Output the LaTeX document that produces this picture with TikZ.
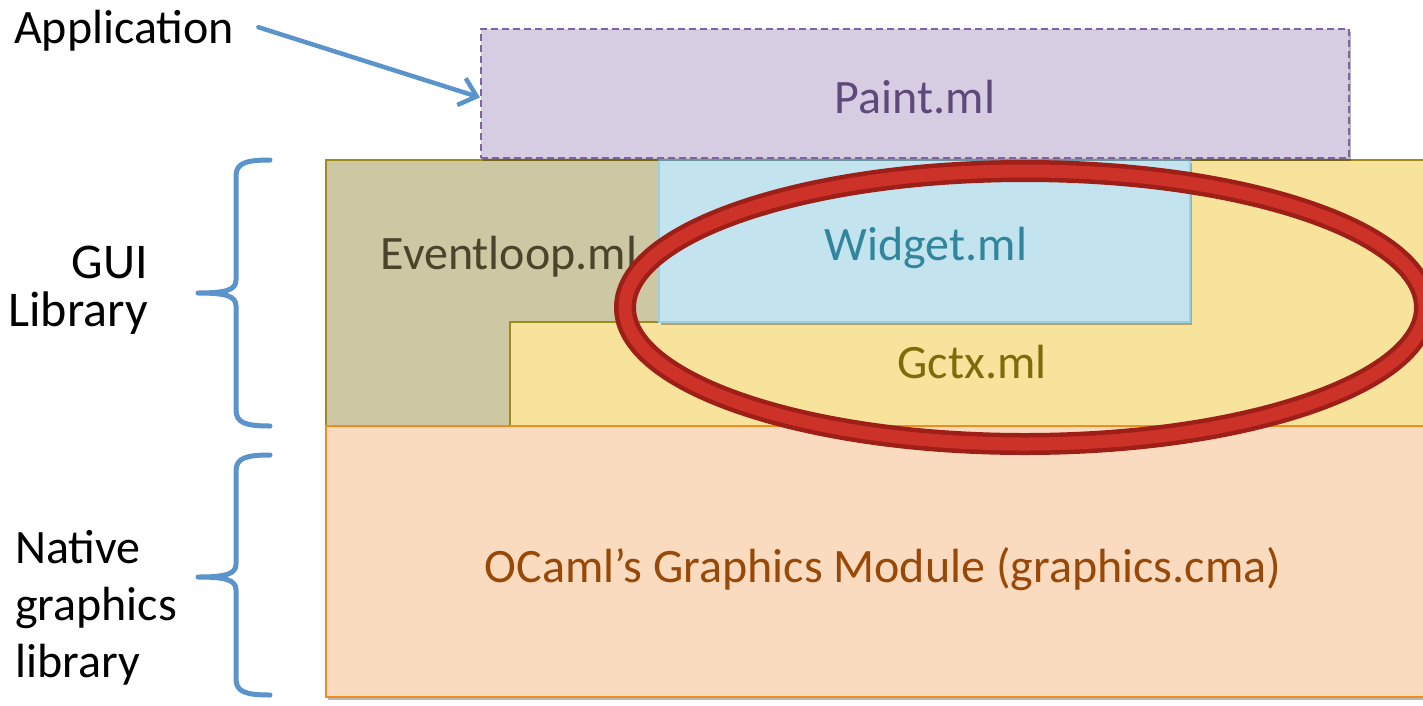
\documentclass[tikz,border=0pt]{standalone}
\usepackage{fontspec}
\setmainfont{Carlito}
\usetikzlibrary{arrows.meta,shapes.geometric,shadows}

\definecolor{callout}{HTML}{5B93CB}
\definecolor{paintfill}{HTML}{D7CDE2}
\definecolor{paintline}{HTML}{8064A2}
\definecolor{painttext}{HTML}{5F497A}
\definecolor{evfill}{HTML}{CEC7A4}
\definecolor{evtext}{HTML}{4A452A}
\definecolor{oliveline}{HTML}{9E8B1A}
\definecolor{gcfill}{HTML}{F7E39B}
\definecolor{gctext}{HTML}{7E6C0C}
\definecolor{wdfill}{HTML}{C3E4EE}
\definecolor{wdline}{HTML}{9BD0DE}
\definecolor{wdtext}{HTML}{31859C}
\definecolor{ocfill}{HTML}{FBDBC0}
\definecolor{ocline}{HTML}{F28C1E}
\definecolor{octext}{HTML}{984807}
\definecolor{ringdark}{HTML}{9E1E18}
\definecolor{ringred}{HTML}{CD3229}

\begin{document}
\begin{tikzpicture}[x=1pt,y=-1pt,
  txt/.style={inner sep=0pt, anchor=base, font=\fontsize{48}{57}\selectfont},
  sidetxt/.style={txt, text=black},
  bigside/.style={sidetxt, font=\fontsize{50}{58}\selectfont},
  softshadow/.style={drop shadow={shadow xshift=2pt, shadow yshift=-3pt, opacity=0.28, fill=black}},
  layerbox/.style={draw, rectangle, inner sep=0pt, outer sep=0pt, softshadow},
  bracestroke/.style={draw=callout, line width=5pt, line cap=round, line join=round},
  pointer/.style={draw=callout, line width=4.5pt, line cap=round,
    -{Straight Barb[length=16pt, width=28pt]}},
  focusring/.style={ellipse, draw=ringdark, line width=4.5pt, double=ringred,
    double distance=13pt, inner sep=0pt, minimum width=800pt, minimum height=273pt}
]
\useasboundingbox (0,0) rectangle (1423,705);
\clip (0,0) rectangle (1423,705);

% Eventloop layer (L-shaped)
\path[fill=evfill, draw=oliveline, line width=2.2pt, softshadow]
  (326,160) -- (659,160) -- (659,322) -- (510,322) -- (510,426) -- (326,426) -- cycle;
\node[txt, text=evtext] (evtxt) at (509,269) {Eventloop.ml};

% Gctx layer (L-shaped, wraps under the widget layer)
\path[fill=gcfill, draw=oliveline, line width=2.2pt, softshadow]
  (510,426) -- (510,322) -- (659,322) -- (659,160) -- (1440,160) -- (1440,426) -- cycle;
\node[txt, text=gctext] (gctxt) at (972,378) {Gctx.ml};

% Widget layer
\node[layerbox, fill=wdfill, draw=wdline, line width=2pt,
  minimum width=531pt, minimum height=162pt] (widget) at (924.5,241) {};
\node[txt, text=wdtext] (wdtxt) at (926,260) {Widget.ml};

% Native graphics layer
\node[layerbox, fill=ocfill, draw=ocline, line width=2.5pt,
  minimum width=1114pt, minimum height=271pt] (ocaml) at (883,561.5) {};
\node[txt, text=octext] (octxt) at (883,582) {OCaml’s Graphics Module (graphics.cma)};

% Application layer
\node[layerbox, fill=paintfill, draw=paintline, line width=1.8pt,
  dash pattern=on 7pt off 4pt,
  minimum width=868pt, minimum height=129pt] (paint) at (915,93.5) {};
\node[txt, text=painttext] (painttxt) at (915,113) {Paint.ml};

% Side labels
\node[sidetxt, anchor=base west] (app) at (14,43) {Application};
\node[bigside, anchor=base east] (gui1) at (148,278) {GUI};
\node[bigside, anchor=base east] (gui2) at (148,326) {Library};
\node[sidetxt, anchor=base west] (nat1) at (15,563) {Native};
\node[sidetxt, anchor=base west] (nat2) at (15,620) {graphics};
\node[sidetxt, anchor=base west] (nat3) at (15,677) {library};

% Callout arrow to the application box
\coordinate (apptail) at ([xshift=24pt, yshift=3pt]app.east);
\coordinate (paintin) at ([xshift=-1pt, yshift=-4pt]paint.west);
\draw[pointer] (apptail) -- (paintin);

% Braces
\draw[bracestroke] (270,160) .. controls (246,160) and (236,163) .. (236,176)
  -- (236,280) .. controls (236,290) and (226,293) .. (198,293)
  .. controls (226,293) and (236,296) .. (236,306)
  -- (236,410) .. controls (236,423) and (246,426) .. (270,426);
\draw[bracestroke] (270,455) .. controls (246,455) and (236,458) .. (236,471)
  -- (236,564) .. controls (236,574) and (226,577) .. (198,577)
  .. controls (226,577) and (236,580) .. (236,590)
  -- (236,679) .. controls (236,692) and (246,695) .. (270,695);

% Highlight ring
\node[focusring] (ring) at (1025,307.5) {};
\end{tikzpicture}
\end{document}
